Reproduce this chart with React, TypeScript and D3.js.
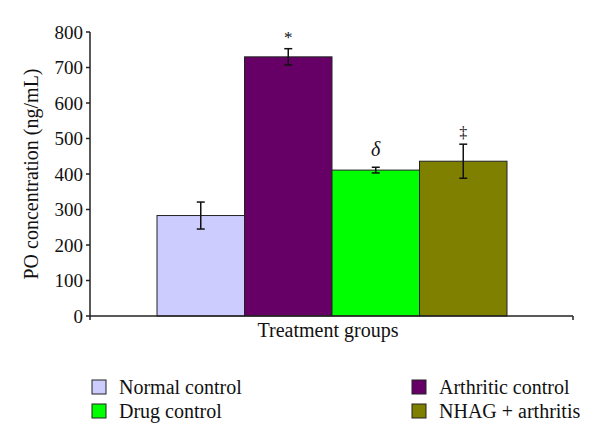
import React from "react";
import * as d3 from "d3";

const groups = ["Normal control", "Arthritic control", "Drug control", "NHAG + arthritis"];
const values = [283, 730, 411, 436];
const errors = [38, 23, 8, 48];
const marks = ["", "*", "δ", "‡"];
const colors = ["#CCCCFF", "#660066", "#00FF00", "#808000"];
const yTicks = [0, 100, 200, 300, 400, 500, 600, 700, 800];
const legendOrder = [0, 2, 1, 3];

const W = 600, H = 446;
const FONT = "'Liberation Serif', 'Times New Roman', serif";

export default function App() {
  const axisX = 90, axisRight = 573;
  const y = d3.scaleLinear().domain([0, 800]).range([316, 32]);
  const x = d3.scaleBand().domain(groups).range([157, 507]).padding(0);
  const cap = 4;
  const markOffset = [0, 6, 11, 6];
  const markSize = [0, 17, 20, 16];
  return (
    <svg width={W} height={H} style={{ display: "block", position: "absolute", left: 0, top: 0, background: "#fff" }} fontFamily={FONT}>
      {groups.map((g, i) => (
        <rect key={g} x={x(g)} y={y(values[i])} width={x.bandwidth()} height={y(0) - y(values[i])}
          fill={colors[i]} stroke="#222" strokeWidth={1} />
      ))}
      {groups.map((g, i) => {
        const cx = (x(g) as number) + x.bandwidth() / 2;
        const y1 = y(values[i] + errors[i]);
        const y2 = y(values[i] - errors[i]);
        return (
          <g key={g} stroke="#111" strokeWidth={1.5}>
            <line x1={cx} x2={cx} y1={y1} y2={y2} />
            <line x1={cx - cap} x2={cx + cap} y1={y1} y2={y1} />
            <line x1={cx - cap} x2={cx + cap} y1={y2} y2={y2} />
          </g>
        );
      })}
      {groups.map((g, i) => {
        const cx = (x(g) as number) + x.bandwidth() / 2;
        const top = y(values[i] + errors[i]);
        return marks[i] ? (
          <text key={g} x={cx} y={top - markOffset[i]} textAnchor="middle" fontSize={markSize[i]} fontStyle={i === 2 ? "italic" : "normal"} fill="#111">{marks[i]}</text>
        ) : null;
      })}
      <line x1={axisX} x2={axisX} y1={y(800)} y2={y(0)} stroke="#222" strokeWidth={1.5} />
      {yTicks.map((t) => (
        <g key={t}>
          <line x1={axisX - 4} x2={axisX} y1={y(t)} y2={y(t)} stroke="#222" strokeWidth={1.5} />
          <text x={axisX - 7} y={y(t)} dy="0.35em" textAnchor="end" fontSize={19} fill="#111">{t}</text>
        </g>
      ))}
      <line x1={axisX} x2={axisRight} y1={y(0)} y2={y(0)} stroke="#222" strokeWidth={1.5} />
      <line x1={axisX} x2={axisX} y1={y(0)} y2={y(0) + 4} stroke="#222" strokeWidth={1.5} />
      <line x1={axisRight} x2={axisRight} y1={y(0)} y2={y(0) + 4} stroke="#222" strokeWidth={1.5} />
      <text x={328} y={337} textAnchor="middle" fontSize={20} fill="#111">Treatment groups</text>
      <text transform={`translate(38,174) rotate(-90)`} textAnchor="middle" fontSize={20} fill="#111">PO concentration (ng/mL)</text>
      {legendOrder.map((gi, k) => {
        const col = Math.floor(k / 2);
        const row = k % 2;
        const lx = col === 0 ? 92 : 412;
        const ly = 380 + row * 24;
        return (
          <g key={gi}>
            <rect x={lx} y={ly} width={14} height={14} fill={colors[gi]} stroke="#222" strokeWidth={1} />
            <text x={lx + 27} y={ly + 14} fontSize={20} fill="#111">{groups[gi]}</text>
          </g>
        );
      })}
    </svg>
  );
}
